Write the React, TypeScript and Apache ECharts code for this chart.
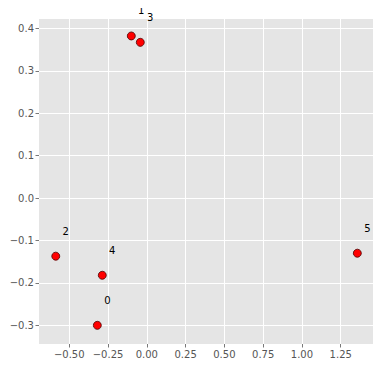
import React, { useEffect, useRef } from "react";
import * as echarts from "echarts";

const pointLabels = ["0", "1", "2", "3", "4", "5"];
const xValues = [-0.319, -0.1, -0.587, -0.042, -0.287, 1.357];
const yValues = [-0.3, 0.382, -0.137, 0.367, -0.182, -0.13];
const xTicks = [-0.5, -0.25, 0, 0.25, 0.5, 0.75, 1.0, 1.25];
const yTicks = [-0.3, -0.2, -0.1, 0.0, 0.1, 0.2, 0.3, 0.4];

const fmt = (v: number, d: number) => {
  const s = Math.abs(v).toFixed(d);
  return (v < -1e-9 ? "\u2212" : "") + s;
};

export default function App() {
  const ref = useRef<HTMLDivElement>(null);
  useEffect(() => {
    if (!ref.current) return;
    const chart = echarts.init(ref.current, undefined, { renderer: "svg" });
    const tick = { show: true, length: 3.5, lineStyle: { color: "#555555", width: 0.8 } };
    const labelCommon = {
      color: "#555555",
      fontFamily: "DejaVu Sans",
      fontSize: 10,
      margin: 5,
    };
    chart.setOption({
      animation: false,
      backgroundColor: "#ffffff",
      grid: {
        left: 39,
        top: 19,
        right: 10,
        bottom: 24,
        show: true,
        backgroundColor: "#e5e5e5",
        borderWidth: 0,
      },
      xAxis: {
        type: "value",
        min: -0.695,
        max: 1.458,
        axisLine: { show: false, onZero: false },
        splitLine: { show: false },
        axisTick: { ...tick, customValues: xTicks },
        axisLabel: { ...labelCommon, customValues: xTicks, formatter: (v: number) => fmt(v, 2) },
      },
      yAxis: {
        type: "value",
        min: -0.344,
        max: 0.422,
        axisLine: { show: false, onZero: false },
        splitLine: { show: false },
        axisTick: { ...tick, customValues: yTicks },
        axisLabel: { ...labelCommon, customValues: yTicks, formatter: (v: number) => fmt(v, 1) },
      },
      series: [
        {
          type: "scatter",
          data: [],
          z: 1,
          silent: true,
          markLine: {
            z: 1,
            silent: true,
            symbol: ["none", "none"],
            label: { show: false },
            lineStyle: { color: "#ffffff", width: 1, type: "solid" },
            data: [
              ...xTicks.map((v) => ({ xAxis: v })),
              ...yTicks.map((v) => ({ yAxis: v })),
            ],
          },
        },
        {
          type: "scatter",
          z: 10,
          symbol: "circle",
          symbolSize: 8,
          itemStyle: { color: "#ff0000", borderColor: "#4a0000", borderWidth: 0.8, opacity: 1 },
          label: {
            show: true,
            position: "inside",
            offset: [10, -25],
            align: "center",
            verticalAlign: "middle",
            color: "#000000",
            fontFamily: "DejaVu Sans",
            fontSize: 10,
            formatter: (p: any) => pointLabels[p.dataIndex],
          },
          data: xValues.map((x, i) => [x, yValues[i]]),
        },
      ],
    });
    return () => chart.dispose();
  }, []);
  return <div ref={ref} style={{ width: 383, height: 368, margin: -8 }} />;
}
